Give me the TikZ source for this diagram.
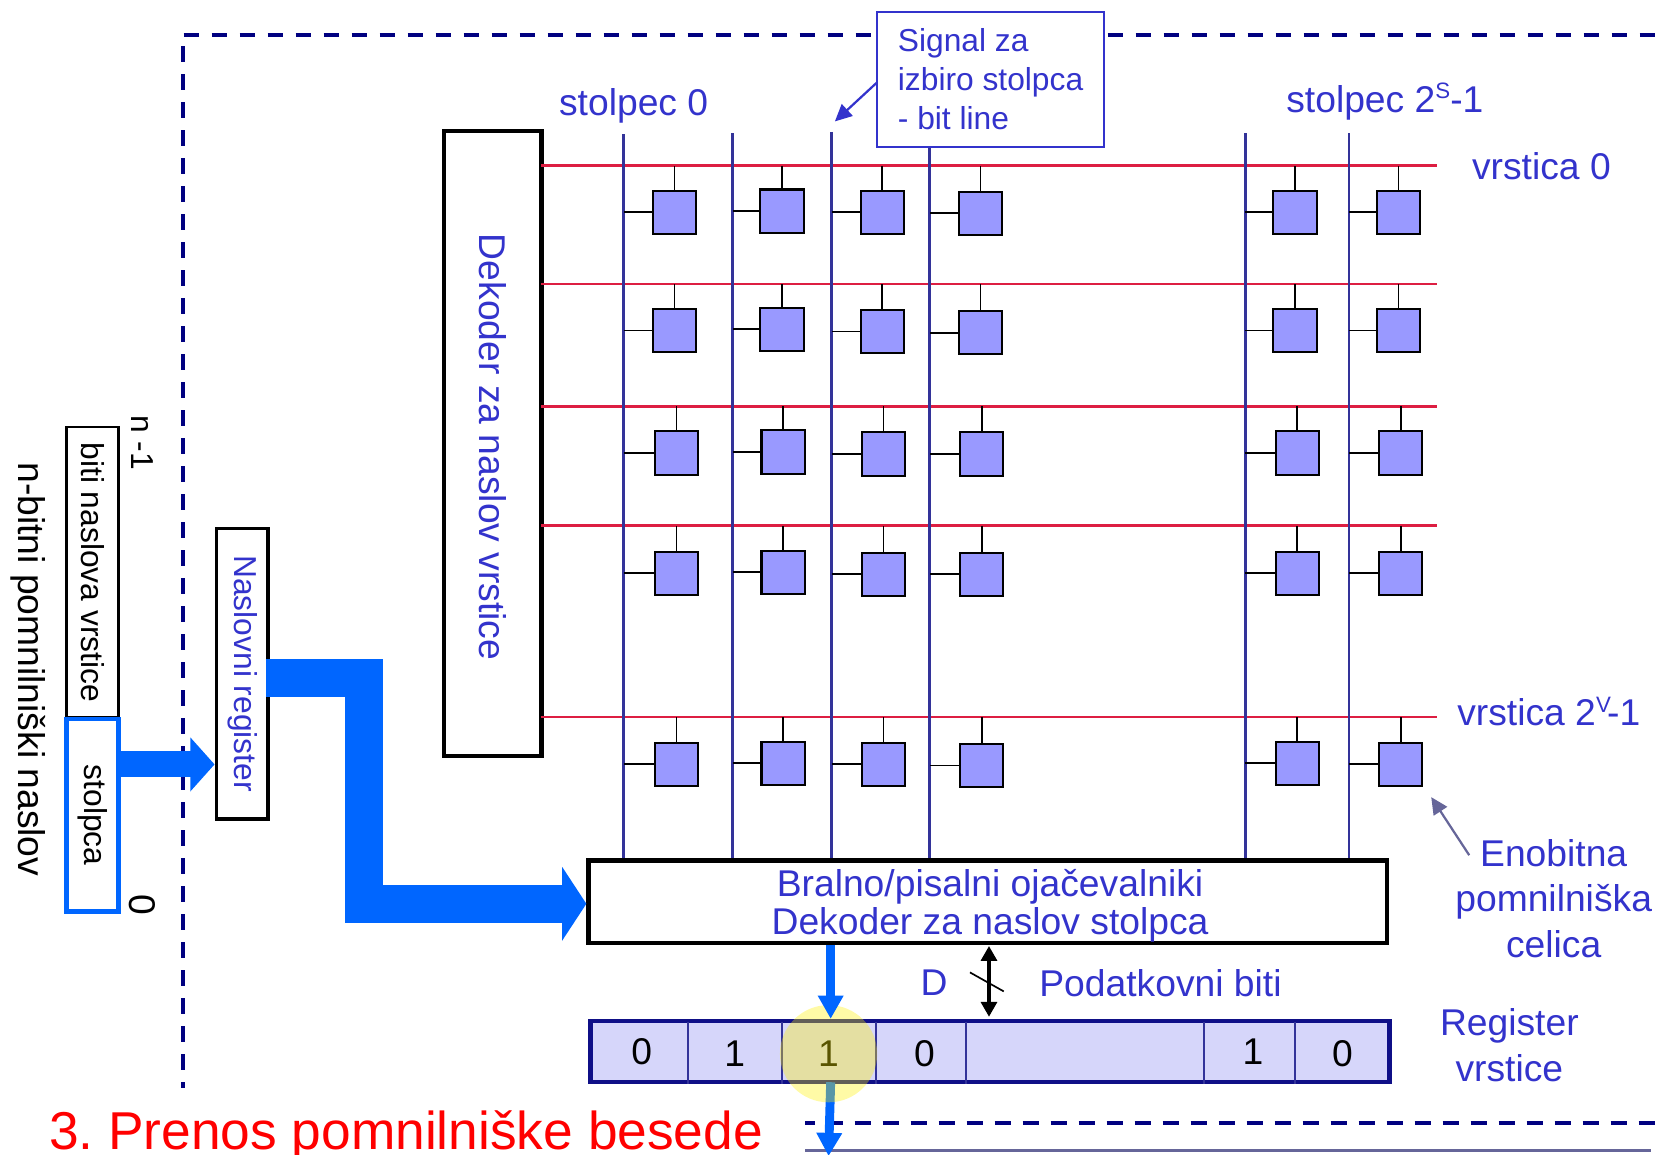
\documentclass[tikz,border=0pt]{standalone}
\usepackage{fontspec}
\setmainfont{Liberation Sans}
\usetikzlibrary{arrows.meta}
\definecolor{napis}{RGB}{51,51,204}
\definecolor{modra}{RGB}{0,102,255}
\definecolor{temna}{RGB}{0,0,128}
\definecolor{bitb}{RGB}{51,51,153}
\definecolor{rdeca}{RGB}{221,30,66}
\definecolor{celb}{RGB}{153,153,255}
\definecolor{vrstb}{RGB}{214,214,250}
\definecolor{siva}{RGB}{102,102,153}
\newcommand{\fmali}{\fontsize{8.55pt}{10.4pt}\selectfont}
\newcommand{\fveliki}{\fontsize{10.03pt}{12.2pt}\selectfont}
\newcommand{\fozki}{\fontsize{10.03pt}{10pt}\selectfont}
\newcommand{\nadp}[1]{\raisebox{0.7ex}{\fontsize{6pt}{6pt}\selectfont #1}}
\tikzset{
  txt/.style={inner sep=0pt, text=napis, font=\fveliki},
  crn/.style={inner sep=0pt, text=black, font=\fmali},
  box/.style={draw=black, fill=white, line width=1.15pt, inner sep=0pt},
  cell/.style={draw=black, fill=celb, line width=0.55pt, inner sep=0pt, minimum size=0.41cm},
  stub/.style={draw=black, line width=0.5pt},
  bitline/.style={draw=bitb, line width=0.75pt},
  wordline/.style={draw=rdeca, line width=0.75pt},
  meja/.style={draw=temna, line width=1.05pt, dash pattern=on 4.27pt off 3.27pt},
  tanka/.style={draw=bitb, line width=0.5pt},
  sirok/.style={draw=modra, line width=10.1pt, miter limit=10, -{Triangle[length=0.23cm,width=0.69cm]}},
  srednji/.style={draw=modra, line width=7pt, -{Triangle[length=0.23cm,width=0.5cm]}},
  ozek/.style={draw=modra, line width=2.4pt, -{Triangle[length=0.22cm,width=0.23cm]}}
}
\begin{document}
\begin{tikzpicture}[x=0.28315bp, y=-0.28325bp]
\useasboundingbox (0,0) rectangle (1568,1093);
% Meje
\coordinate (m0) at (173,1030);
\coordinate (m1) at (173,33);
\coordinate (m2) at (1568,33);
\coordinate (m3) at (763,1064);
\coordinate (m4) at (1568,1064);
\coordinate (m5) at (763,1090);
\coordinate (m6) at (1564,1090);
\draw[meja, dash phase=2.82pt] (m0) -- (m1) -- (m2);
\draw[meja, dash phase=1.8pt] (m3) -- (m4);
\draw[draw=siva, line width=0.75pt] (m5) -- (m6);
% Bloki
\node[box, rotate=-90, minimum width=5.92cm, minimum height=0.92cm, text=napis, font=\fveliki] (dek) at (467,420) {\hspace*{2pt}Dekoder za naslov vrstice};
\node[box, rotate=-90, line width=0.95pt, minimum width=2.75cm, minimum height=0.49cm, text=napis, font=\fmali] (reg) at (229.5,638) {Naslovni register};
\node[box, rotate=-90, line width=0.75pt, minimum width=2.75cm, minimum height=0.49cm, text=black, font=\fmali] (bn) at (87.5,542) {biti naslova vrstice};
\node[box, rotate=-90, draw=modra, line width=1.3pt, minimum width=1.82cm, minimum height=0.49cm, text=black, font=\fmali] (bs) at (87.5,772) {stolpca};
\node[box, minimum width=7.56cm, minimum height=0.78cm, text=napis, font=\fozki, align=center] (bral) at (936,854) {\rule{0pt}{9.5pt}\hspace*{1.14pt}Bralno/pisalni ojačevalniki\\\hspace*{1.14pt}Dekoder za naslov stolpca};
\node[crn, rotate=-90, font=\fveliki] (nb) at (27,634) {n-bitni pomnilniški naslov};
\node[crn, rotate=-90] (n1) at (135,419) {n -1};
\node[crn, rotate=-90, font=\fveliki] (n0) at (135,857) {0};
% Vodila
\coordinate (a0) at (150,724);
\coordinate (a1) at (345,642);
\coordinate (a2) at (345,856);
\coordinate (a3) at (252,642);
\draw[srednji] (bs.north |- a0) -- (reg.south |- a0);
\draw[sirok] (a3) -- (a1) -- (a2) -- (bral.west |- a2);
% Vrstice
\coordinate (w0) at (513,157);
\coordinate (w1) at (513,269);
\coordinate (w2) at (513,385);
\coordinate (w3) at (513,498);
\coordinate (w4) at (513,679);
\coordinate (e0) at (1361,157);
\coordinate (e1) at (1361,269);
\coordinate (e2) at (1361,385);
\coordinate (e3) at (1361,498);
\coordinate (e4) at (1361,679);
\draw[wordline] (w0) -- (e0);
\draw[wordline] (w1) -- (e1);
\draw[wordline] (w2) -- (e2);
\draw[wordline] (w3) -- (e3);
\draw[wordline] (w4) -- (e4);
% Stolpci
\coordinate (b0) at (591,127);
\coordinate (b1) at (694,126);
\coordinate (b2) at (788,125);
\coordinate (b3) at (881,130);
\coordinate (b4) at (1180,126);
\coordinate (b5) at (1278,126);
\draw[bitline] (b0) -- (b0 |- bral.north);
\draw[bitline] (b1) -- (b1 |- bral.north);
\draw[bitline] (b2) -- (b2 |- bral.north);
\draw[bitline] (b3) -- (b3 |- bral.north);
\draw[bitline] (b4) -- (b4 |- bral.north);
\draw[bitline] (b5) -- (b5 |- bral.north);
% Celice
\node[cell] (c00) at (639,201) {};
\node[cell] (c01) at (741,200) {};
\node[cell] (c02) at (836,201) {};
\node[cell] (c03) at (929,202) {};
\node[cell] (c04) at (1227,201) {};
\node[cell] (c05) at (1325,201) {};
\node[cell] (c10) at (639,313) {};
\node[cell] (c11) at (741,312) {};
\node[cell] (c12) at (836,314) {};
\node[cell] (c13) at (929,315) {};
\node[cell] (c14) at (1227,313) {};
\node[cell] (c15) at (1325,313) {};
\node[cell] (c20) at (641,429) {};
\node[cell] (c21) at (742,428) {};
\node[cell] (c22) at (837,430) {};
\node[cell] (c23) at (930,430) {};
\node[cell] (c24) at (1229,429) {};
\node[cell] (c25) at (1327,429) {};
\node[cell] (c30) at (641,543) {};
\node[cell] (c31) at (742,542) {};
\node[cell] (c32) at (837,544) {};
\node[cell] (c33) at (930,544) {};
\node[cell] (c34) at (1229,543) {};
\node[cell] (c35) at (1327,543) {};
\node[cell] (c40) at (641,724) {};
\node[cell] (c41) at (742,723) {};
\node[cell] (c42) at (837,724) {};
\node[cell] (c43) at (930,725) {};
\node[cell] (c44) at (1229,723) {};
\node[cell] (c45) at (1327,724) {};
% Prikljucki
\draw[stub] (c00.north) -- (c00.north |- w0) (c00.west) -- (c00.west -| b0);
\draw[stub] (c01.north) -- (c01.north |- w0) (c01.west) -- (c01.west -| b1);
\draw[stub] (c02.north) -- (c02.north |- w0) (c02.west) -- (c02.west -| b2);
\draw[stub] (c03.north) -- (c03.north |- w0) (c03.west) -- (c03.west -| b3);
\draw[stub] (c04.north) -- (c04.north |- w0) (c04.west) -- (c04.west -| b4);
\draw[stub] (c05.north) -- (c05.north |- w0) (c05.west) -- (c05.west -| b5);
\draw[stub] (c10.north) -- (c10.north |- w1) (c10.west) -- (c10.west -| b0);
\draw[stub] (c11.north) -- (c11.north |- w1) (c11.west) -- (c11.west -| b1);
\draw[stub] (c12.north) -- (c12.north |- w1) (c12.west) -- (c12.west -| b2);
\draw[stub] (c13.north) -- (c13.north |- w1) (c13.west) -- (c13.west -| b3);
\draw[stub] (c14.north) -- (c14.north |- w1) (c14.west) -- (c14.west -| b4);
\draw[stub] (c15.north) -- (c15.north |- w1) (c15.west) -- (c15.west -| b5);
\draw[stub] (c20.north) -- (c20.north |- w2) (c20.west) -- (c20.west -| b0);
\draw[stub] (c21.north) -- (c21.north |- w2) (c21.west) -- (c21.west -| b1);
\draw[stub] (c22.north) -- (c22.north |- w2) (c22.west) -- (c22.west -| b2);
\draw[stub] (c23.north) -- (c23.north |- w2) (c23.west) -- (c23.west -| b3);
\draw[stub] (c24.north) -- (c24.north |- w2) (c24.west) -- (c24.west -| b4);
\draw[stub] (c25.north) -- (c25.north |- w2) (c25.west) -- (c25.west -| b5);
\draw[stub] (c30.north) -- (c30.north |- w3) (c30.west) -- (c30.west -| b0);
\draw[stub] (c31.north) -- (c31.north |- w3) (c31.west) -- (c31.west -| b1);
\draw[stub] (c32.north) -- (c32.north |- w3) (c32.west) -- (c32.west -| b2);
\draw[stub] (c33.north) -- (c33.north |- w3) (c33.west) -- (c33.west -| b3);
\draw[stub] (c34.north) -- (c34.north |- w3) (c34.west) -- (c34.west -| b4);
\draw[stub] (c35.north) -- (c35.north |- w3) (c35.west) -- (c35.west -| b5);
\draw[stub] (c40.north) -- (c40.north |- w4) (c40.west) -- (c40.west -| b0);
\draw[stub] (c41.north) -- (c41.north |- w4) (c41.west) -- (c41.west -| b1);
\draw[stub] (c42.north) -- (c42.north |- w4) (c42.west) -- (c42.west -| b2);
\draw[stub] (c43.north) -- (c43.north |- w4) (c43.west) -- (c43.west -| b3);
\draw[stub] (c44.north) -- (c44.north |- w4) (c44.west) -- (c44.west -| b4);
\draw[stub] (c45.north) -- (c45.north |- w4) (c45.west) -- (c45.west -| b5);
% Register vrstice
\node[draw=temna!70!bitb, fill=vrstb, line width=1.15pt, inner sep=0pt, minimum width=7.56cm, minimum height=0.58cm] (rv) at (938,996) {};
\coordinate (d0) at (652,968);
\coordinate (d1) at (741,968);
\coordinate (d2) at (830,968);
\coordinate (d3) at (915,968);
\coordinate (d4) at (1141,968);
\coordinate (d5) at (1227,968);
\draw[tanka] (d0) -- (d0 |- rv.south);
\draw[tanka] (d1) -- (d1 |- rv.south);
\draw[tanka] (d2) -- (d2 |- rv.south);
\draw[tanka] (d3) -- (d3 |- rv.south);
\draw[tanka] (d4) -- (d4 |- rv.south);
\draw[tanka] (d5) -- (d5 |- rv.south);
\node[crn, font=\fveliki] (v0) at (608,996) {0};
\node[crn, font=\fveliki] (v1) at (696,998) {1};
\node[crn, font=\fveliki] (v2) at (785,998) {1};
\node[crn, font=\fveliki] (v3) at (876,998) {0};
\node[crn, font=\fveliki] (v4) at (1187,996) {1};
\node[crn, font=\fveliki] (v5) at (1272,998) {0};
\coordinate (p0) at (787,1025);
\coordinate (p1) at (785,1095);
\draw[ozek] (p0) -- (p1);
\node[circle, fill=yellow, fill opacity=0.35, inner sep=0pt, minimum size=0.92cm] (kr) at (785,998) {};
\draw[ozek] (bral.south -| p0) -- (rv.north -| p0);
% Podatki
\coordinate (q0) at (937,896);
\coordinate (q1) at (937,963);
\coordinate (q2) at (919,921);
\coordinate (q3) at (951,939);
\draw[draw=black, line width=0.9pt, {Triangle[length=0.14cm,width=0.15cm]}-{Triangle[length=0.14cm,width=0.15cm]}] (q0) -- (q1);
\draw[draw=black, line width=0.45pt] (q2) -- (q3);
\node[txt] (dd) at (885,931) {D};
\node[txt, anchor=west] (pb) at (984,931) {Podatkovni biti};
% Napisi
\node[draw=napis, fill=white, line width=0.55pt, text=napis, font=\fmali, align=left, inner sep=0pt, minimum width=2.15cm, minimum height=1.28cm] (sig) at (938.5,75) {Signal za\\izbiro stolpca\\- bit line};
\coordinate (s0) at (831,78);
\coordinate (s1) at (791,115);
\draw[draw=napis, line width=0.6pt, -{Triangle[length=0.16cm,width=0.15cm]}] (s0) -- (s1);
\node[txt, anchor=west] (st0) at (529,100) {stolpec 0};
\node[txt, anchor=west] (st1) at (1218,96) {stolpec 2\nadp{S}-1};
\node[txt, anchor=west] (vr0) at (1394,157) {vrstica 0};
\node[txt, anchor=west] (vr1) at (1380,674) {vrstica 2\nadp{V}\hspace{-1pt}-1};
\node[txt, align=center] (eno) at (1472,851) {Enobitna\\pomnilniška\\celica};
\coordinate (t0) at (1392,810);
\coordinate (t1) at (1356,755);
\draw[draw=siva, line width=0.6pt, -{Triangle[length=0.16cm,width=0.15cm]}] (t0) -- (t1);
\node[txt, align=center] (rg) at (1430,990) {Register\\vrstice};
\node[inner sep=0pt, anchor=base west, text=red, font=\fontsize{14.35pt}{16pt}\selectfont] (nsl) at (46,1089) {3.\hspace{-1.4pt} Prenos pomnilniške besede};
\end{tikzpicture}
\end{document}
